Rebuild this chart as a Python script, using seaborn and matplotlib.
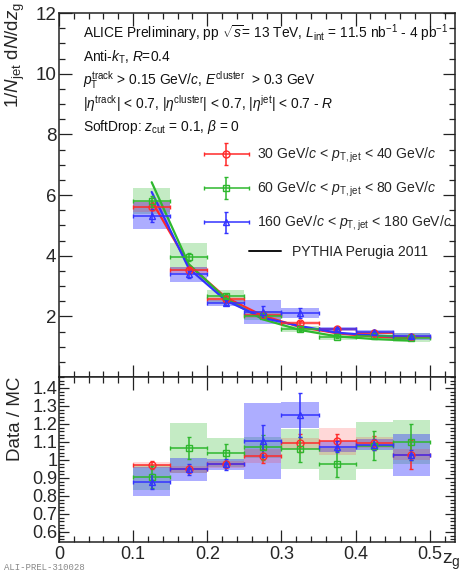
import numpy as np
import pandas as pd
import matplotlib
matplotlib.use("Agg")
import matplotlib.pyplot as plt
import seaborn as sns
from matplotlib.ticker import MultipleLocator, FixedLocator, FormatStrFormatter
from matplotlib.lines import Line2D
from matplotlib.legend_handler import HandlerErrorbar
from matplotlib.container import ErrorbarContainer

# ---------------- data ----------------
bin_lo = [0.10, 0.15, 0.20, 0.25, 0.30, 0.35, 0.40, 0.45]
bin_hi = [0.15, 0.20, 0.25, 0.30, 0.35, 0.40, 0.45, 0.50]

series = ["30-40", "60-80", "160-180"]
labels = [r"30 GeV/$c$ < $p_{\rm T,jet}$ < 40 GeV/$c$",
          r"60 GeV/$c$ < $p_{\rm T,jet}$ < 80 GeV/$c$",
          r"160 GeV/$c$ < $p_{\rm T,jet}$ < 180 GeV/$c$"]

data_30 = [5.62, 3.52, 2.57, 2.03, 1.78, 1.57, 1.46, 1.32]
data_60 = [5.80, 3.96, 2.66, 2.02, 1.57, 1.32, 1.34, 1.30]
data_160 = [5.32, 3.39, 2.45, 2.14, 2.11, 1.58, 1.49, 1.34]
stat_30 = [0.10, 0.08, 0.05, 0.06, 0.06, 0.05, 0.05, 0.05]
stat_60 = [0.18, 0.12, 0.07, 0.08, 0.06, 0.05, 0.05, 0.05]
stat_160 = [0.22, 0.12, 0.08, 0.20, 0.18, 0.06, 0.06, 0.06]
sys_30 = [0.18, 0.10, 0.08, 0.10, 0.07, 0.06, 0.05, 0.05]
sys_60 = [0.42, 0.45, 0.22, 0.15, 0.10, 0.10, 0.10, 0.15]
sys_160 = [0.45, 0.25, 0.10, 0.40, 0.15, 0.07, 0.07, 0.12]

mc_30 = [5.80, 3.70, 2.62, 2.02, 1.65, 1.44, 1.33, 1.27]
mc_60 = [6.42, 3.72, 2.58, 1.90, 1.55, 1.34, 1.25, 1.20]
mc_160 = [6.10, 3.58, 2.52, 1.95, 1.68, 1.46, 1.37, 1.31]

ratio_30 = [0.972, 0.948, 0.976, 1.022, 1.093, 1.104, 1.096, 1.030]
ratio_60 = [0.904, 1.065, 1.040, 1.070, 1.060, 0.978, 1.080, 1.100]
ratio_160 = [0.880, 0.948, 0.976, 1.105, 1.250, 1.074, 1.085, 1.028]
rstat_30 = [0.02, 0.02, 0.02, 0.04, 0.05, 0.04, 0.04, 0.08]
rstat_60 = [0.06, 0.06, 0.05, 0.07, 0.07, 0.07, 0.08, 0.10]
rstat_160 = [0.04, 0.03, 0.03, 0.09, 0.12, 0.03, 0.03, 0.03]
rsys_30 = [0.015, 0.02, 0.02, 0.04, 0.03, 0.075, 0.03, 0.03]
rsys_60 = [0.07, 0.14, 0.08, 0.06, 0.11, 0.09, 0.13, 0.12]
rsys_160 = [0.08, 0.065, 0.03, 0.21, 0.07, 0.03, 0.03, 0.115]

# ---------------- style ----------------
sns.set_theme(style="ticks")
plt.rcParams["font.family"] = ["Liberation Sans", "DejaVu Sans"]
plt.rcParams["mathtext.fontset"] = "custom"
plt.rcParams["mathtext.rm"] = "Liberation Sans"
plt.rcParams["mathtext.it"] = "Liberation Sans:italic"
plt.rcParams["mathtext.bf"] = "Liberation Sans:bold"
plt.rcParams["axes.linewidth"] = 1.1

colors = {"30-40": "#ff2a2a", "60-80": "#2eb82e", "160-180": "#3333ff"}
box_alpha = {"30-40": 0.18, "60-80": 0.28, "160-180": 0.40}
markers = {"30-40": "o", "60-80": "s", "160-180": "^"}

lo = np.array(bin_lo)
hi = np.array(bin_hi)
ctr = (lo + hi) / 2
hw = (hi - lo) / 2

W, H = 461, 574
fig = plt.figure(figsize=(W / 100, H / 100), dpi=100)
x0, x1 = 59, 455
ax = fig.add_axes([x0 / W, (H - 377) / H, (x1 - x0) / W, (377 - 13) / H])
axr = fig.add_axes([x0 / W, (H - 541.7) / H, (x1 - x0) / W, (541.7 - 377) / H])

top = {"30-40": (data_30, stat_30, sys_30, mc_30),
       "60-80": (data_60, stat_60, sys_60, mc_60),
       "160-180": (data_160, stat_160, sys_160, mc_160)}
bot = {"30-40": (ratio_30, rstat_30, rsys_30),
       "60-80": (ratio_60, rstat_60, rsys_60),
       "160-180": (ratio_160, rstat_160, rsys_160)}

order = ["60-80", "160-180", "30-40"]

# systematic boxes
for s in order:
    v, st, sy, mc = top[s]
    v = np.array(v); sy = np.array(sy)
    ax.bar(ctr, 2 * sy, width=hi - lo, bottom=v - sy, color=colors[s],
           alpha=box_alpha[s], linewidth=0, zorder=1)
    r, rst, rsy = bot[s]
    r = np.array(r); rsy = np.array(rsy)
    axr.bar(ctr, 2 * rsy, width=hi - lo, bottom=r - rsy, color=colors[s],
            alpha=box_alpha[s], linewidth=0, zorder=1)

# MC curves via seaborn
rows = []
for s in series:
    for c, m in zip(ctr, top[s][3]):
        rows.append({"zg": c, "val": m, "series": s})
df_mc = pd.DataFrame(rows)
sns.lineplot(data=df_mc, x="zg", y="val", hue="series", palette=colors,
             ax=ax, legend=False, linewidth=1.6, zorder=4, sort=True)

# data points with stat errors
handles = {}
for s, lab in zip(series, labels):
    v, st, sy, mc = top[s]
    h = ax.errorbar(ctr, v, xerr=hw, yerr=st, fmt=markers[s], color=colors[s],
                    mfc="none", mec=colors[s], ms=5, mew=1.0, elinewidth=1.1,
                    capsize=1.5, capthick=1.0, zorder=5, label=lab)
    handles[s] = h
    r, rst, rsy = bot[s]
    axr.errorbar(ctr, r, xerr=hw, yerr=rst, fmt=markers[s], color=colors[s],
                 mfc="none", mec=colors[s], ms=5, mew=1.0, elinewidth=1.1,
                 capsize=1.5, capthick=1.0, zorder=5)

# axes limits and ticks
for a in (ax, axr):
    a.set_xlim(0, 0.534)
    a.xaxis.set_major_locator(MultipleLocator(0.1))
    a.xaxis.set_minor_locator(MultipleLocator(0.02))
    a.tick_params(which="both", direction="in", top=True, right=True,
                  color="#222222", width=0.9)
    a.tick_params(which="major", length=9)
    a.tick_params(which="minor", length=4.5)
    for sp in a.spines.values():
        sp.set_color("#222222")

ax.set_ylim(0, 12)
ax.yaxis.set_major_locator(FixedLocator([2, 4, 6, 8, 10, 12]))
ax.yaxis.set_minor_locator(MultipleLocator(0.5))
ax.tick_params(axis="x", labelbottom=False)
ax.tick_params(axis="y", labelsize=13.5, pad=2)
ax.set_xlabel("")
ax.set_ylabel("")

axr.set_ylim(0.546, 1.461)
axr.yaxis.set_major_locator(FixedLocator([0.6, 0.7, 0.8, 0.9, 1.0, 1.1, 1.2, 1.3, 1.4]))
axr.yaxis.set_minor_locator(MultipleLocator(0.02))
axr.yaxis.set_major_formatter(FormatStrFormatter("%g"))
axr.xaxis.set_major_formatter(FormatStrFormatter("%g"))
axr.tick_params(axis="y", labelsize=13, pad=1)
axr.tick_params(axis="x", labelsize=13, pad=3)
axr.tick_params(axis="y", which="major", length=7)
axr.tick_params(axis="y", which="minor", length=3.5)

# axis titles
fig.text(15 / W, 1 - 2 / H, r"1/$N_{\rm jet}$ d$N$/d$z_{\rm g}$", rotation=90,
         ha="center", va="top", fontsize=13.5)
fig.text(15 / W, 1 - 377 / H, "Data / MC", rotation=90, ha="center", va="top",
         fontsize=13.5)
fig.text(442 / W, 2 / H, r"z$_{\rm g}$", ha="left", va="bottom", fontsize=14)
fig.text(4 / W, 2 / H, "ALI-PREL-310028", ha="left", va="bottom", fontsize=6.5,
         color="#888888", family=["Liberation Mono", "DejaVu Sans Mono"])

# annotation block
lines = [r"ALICE Preliminary, pp $\sqrt{s}$= 13 TeV, $L_{\rm int}$ = 11.5 nb$^{-1}$ - 4 pb$^{-1}$",
         r"Anti-$k_{\rm T}$, $R$=0.4",
         r"$p_{\rm T}^{\rm track}$ > 0.15 GeV/$c$, $E^{\rm cluster}$  > 0.3 GeV",
         r"|$\eta^{\rm track}$| < 0.7, |$\eta^{\rm cluster}$| < 0.7, |$\eta^{\rm jet}$| < 0.7 - $R$",
         r"SoftDrop: $z_{\rm cut}$ = 0.1, $\beta$ = 0"]
ys = [33, 57, 80, 104, 127]
for t, y in zip(lines, ys):
    ax.text((83 - x0) / (x1 - x0), 1 - (y - 13) / 364, t, transform=ax.transAxes,
            ha="left", va="center", fontsize=9.9, color="#111111")

# legends
leg1 = ax.legend(handles=[handles[s] for s in series], labels=labels,
                 loc="upper left", bbox_to_anchor=((203 - x0) / (x1 - x0), 1 - (146 - 13) / 364),
                 frameon=False, fontsize=10.1, handlelength=3.3, labelspacing=1.05,
                 handletextpad=0.55, borderaxespad=0, borderpad=0,
                 handler_map={ErrorbarContainer: HandlerErrorbar(xerr_size=1.6, yerr_size=0.75)})
ax.add_artist(leg1)
pyth = Line2D([], [], color="#111111", lw=1.4)
ax.legend(handles=[pyth], labels=["PYTHIA Perugia 2011"], loc="center left",
          bbox_to_anchor=((249 - x0) / (x1 - x0), 1 - (252 - 13) / 364),
          frameon=False, fontsize=10.1, handlelength=2.3, handletextpad=0.8,
          borderaxespad=0, borderpad=0)

fig.savefig("out.png", dpi=100)
